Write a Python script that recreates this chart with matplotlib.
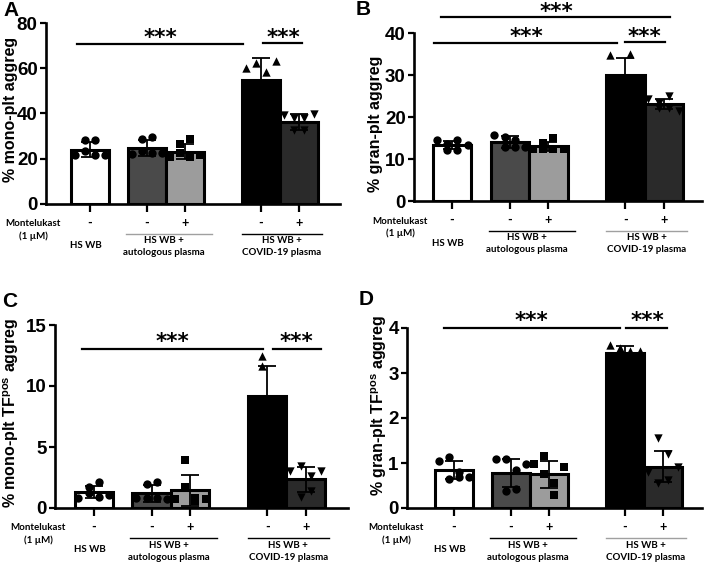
import numpy as np
import matplotlib
matplotlib.use("Agg")
import matplotlib.pyplot as plt

plt.rcParams['font.family'] = ['Liberation Sans', 'DejaVu Sans']
plt.rcParams['mathtext.fontset'] = 'custom'
plt.rcParams['mathtext.rm'] = 'Liberation Sans:bold'
plt.rcParams['mathtext.bf'] = 'Liberation Sans:bold'
plt.rcParams['mathtext.it'] = 'Liberation Sans:bold'

# ---------------- data ----------------
montelukast = ["-", "-", "+", "-", "+"]
group_names = ["HS WB", "HS WB +", "autologous plasma", "HS WB +", "COVID-19 plasma"]
bar_colors = ["#ffffff", "#4a4a4a", "#9c9c9c", "#000000", "#2a2a2a"]
markers = ["o", "o", "s", "^", "v"]

ylabel_A = "% mono-plt aggreg"
means_A = [24.0, 24.8, 23.2, 55.0, 36.3]
sd_A = [3.2, 3.4, 3.3, 9.6, 3.4]
pts_A = [
    [21.7, 28.3, 23.4, 28.3, 21.7, 21.7],
    [22.0, 28.6, 23.4, 29.8, 22.7, 22.7],
    [20.6, 26.5, 22.4, 28.6, 20.6, 21.7],
    [60.0, 62.2, 43.0, 43.0, 58.5, 63.4],
    [39.3, 38.2, 32.7, 38.2, 32.7, 39.8],
]

ylabel_B = "% gran-plt aggreg"
means_B = [13.3, 14.0, 13.0, 30.0, 23.0]
sd_B = [1.0, 1.4, 1.1, 4.0, 1.2]
pts_B = [
    [14.5, 13.6, 12.1, 14.5, 12.1, 13.3],
    [15.7, 15.3, 12.9, 14.5, 12.9, 12.9],
    [12.3, 13.7, 12.3, 14.9, 12.3, 12.5],
    [34.7, 27.5, 27.5, 35.0, 27.8, 27.5],
    [24.2, 23.3, 22.1, 25.0, 22.1, 21.5],
]

ylabel_C = r"% mono-plt TF$^{\mathbf{pos}}$ aggreg"
means_C = [1.3, 1.2, 1.45, 9.2, 2.35]
sd_C = [0.5, 0.7, 1.25, 2.4, 1.0]
pts_C = [
    [0.85, 1.7, 1.2, 2.16, 0.93, 1.07],
    [0.8, 2.0, 0.8, 2.1, 0.8, 0.7],
    [0.7, 3.9, 1.75, 0.6, 0.8, 0.75],
    [8.2, 12.5, 11.6, 6.3, 8.3, 8.3],
    [3.0, 3.44, 0.93, 2.6, 1.42, 3.0],
]

ylabel_D = r"% gran-plt TF$^{\mathbf{pos}}$ aggreg"
means_D = [0.84, 0.78, 0.75, 3.45, 0.92]
sd_D = [0.2, 0.31, 0.3, 0.16, 0.34]
pts_D = [
    [1.04, 0.64, 1.14, 0.81, 0.70, 0.70],
    [1.08, 1.1, 0.38, 0.84, 0.42, 0.98],
    [0.98, 1.16, 0.76, 0.30, 0.55, 0.92],
    [3.62, 3.5, 3.55, 3.2, 3.5, 3.48],
    [0.81, 1.55, 0.55, 1.2, 0.62, 0.92],
]

# ---------------- layout ----------------
W, H = 705, 562
xpos = [0, 1.5, 2.5, 4.5, 5.5]
col_off = [-0.4, -0.13, -0.13, 0.13, 0.13, 0.4]

panels = [
    dict(letter="A", letter_xy=(3, 1), rect=(46, 23, 340, 204), xlim=(-1.16, 6.58),
         ylim=(0, 80), yticks=[0, 20, 40, 60, 80], ylabel=ylabel_A, ylab=(-0.122, 0.52),
         means=means_A, sd=sd_A, pts=pts_A, monte_dx=-13,
         glc=["#a0a0a0", "#000000"],
         sig=[(-0.34, 4.03, 70.5), (4.55, 5.58, 71.2)],
         stars=[(1.84, 75.6), (5.08, 75.8)]),
    dict(letter="B", letter_xy=(356, 0), rect=(414, 33, 702, 201), xlim=(-0.99, 6.49),
         ylim=(0, 40), yticks=[0, 10, 20, 30, 40], ylabel=ylabel_B, ylab=(-0.135, 0.46),
         means=means_B, sd=sd_B, pts=pts_B, monte_dx=-14,
         glc=["#000000", "#a0a0a0"],
         sig=[(-0.3, 5.65, 43.7), (-0.47, 4.29, 37.7), (4.5, 5.54, 37.9)],
         stars=[(2.7, 46.2), (1.92, 40.2), (5.0, 40.2)]),
    dict(letter="C", letter_xy=(2, 292), rect=(55, 325, 348, 508), xlim=(-1.01, 6.6),
         ylim=(0, 15), yticks=[0, 5, 10, 15], ylabel=ylabel_C, ylab=(-0.15, 0.52),
         means=means_C, sd=sd_C, pts=pts_C, monte_dx=-17,
         glc=["#000000", "#000000"],
         sig=[(-0.32, 4.39, 13.0), (4.65, 5.9, 13.0)],
         stars=[(2.05, 14.04), (5.27, 14.04)]),
    dict(letter="D", letter_xy=(359, 290), rect=(407, 328, 702, 508), xlim=(-1.24, 6.53),
         ylim=(0, 4), yticks=[0, 1, 2, 3, 4], ylabel=ylabel_D, ylab=(-0.094, 0.57),
         means=means_D, sd=sd_D, pts=pts_D, monte_dx=-11,
         glc=["#000000", "#a0a0a0"],
         sig=[(-0.26, 4.37, 3.99), (4.53, 5.6, 3.99)],
         stars=[(2.05, 4.27), (5.1, 4.27)]),
]

fig = plt.figure(figsize=(W / 100, H / 100), dpi=100)
small_font = ['Lato', 'DejaVu Sans']
SF = 7.0

for p in panels:
    x0, y0, x1, y1 = p["rect"]
    hpx = y1 - y0
    ax = fig.add_axes([x0 / W, 1 - y1 / H, (x1 - x0) / W, hpx / H])
    ax.set_xlim(*p["xlim"])
    ax.set_ylim(*p["ylim"])
    for s in ["top", "right"]:
        ax.spines[s].set_visible(False)
    for s in ["left", "bottom"]:
        ax.spines[s].set_linewidth(1.9)
    ax.bar(xpos, p["means"], width=1.0, color=bar_colors, edgecolor="black",
           linewidth=2.2, zorder=2)
    ax.errorbar(xpos, p["means"], yerr=p["sd"], fmt="none", ecolor="black",
                elinewidth=1.3, capsize=6.5, capthick=1.3, zorder=3)
    for i, vals in enumerate(p["pts"]):
        xs = [xpos[i] + col_off[k] for k in range(len(vals))]
        ax.scatter(xs, vals, marker=markers[i], s=36, color="black", zorder=4,
                   linewidths=0)
    ax.set_yticks(p["yticks"])
    ax.set_yticklabels([str(t) for t in p["yticks"]], fontsize=13.5, fontweight="bold")
    ax.tick_params(axis="y", length=4, width=1.6, pad=2)
    ax.set_xticks(xpos)
    ax.set_xticklabels([])
    ax.tick_params(axis="x", length=6, width=1.6)
    ax.set_ylabel(p["ylabel"], fontsize=11.5, fontweight="bold", va="center", ha="center")
    ax.yaxis.set_label_coords(*p["ylab"])

    tr = ax.get_xaxis_transform()
    def fy(d):
        return -d / hpx
    for i, m in enumerate(montelukast):
        ax.text(xpos[i], fy(19), m, transform=tr, ha="center", va="center",
                fontsize=9, fontweight="bold", family=small_font)
    ax.annotate("Montelukast", xy=(0, fy(20)), xycoords="axes fraction",
                xytext=(p["monte_dx"] * 0.72, 0), textcoords="offset points",
                ha="center", va="center", fontsize=SF, fontweight="bold", family=small_font)
    ax.annotate("(1 µM)", xy=(0, fy(32)), xycoords="axes fraction",
                xytext=(p["monte_dx"] * 0.72, 0), textcoords="offset points",
                ha="center", va="center", fontsize=SF, fontweight="bold", family=small_font)
    ax.text(-0.1, fy(42), group_names[0], transform=tr, ha="center", va="center",
            fontsize=SF, fontweight="bold", family=small_font)
    ax.plot([0.95, 3.2], [fy(30), fy(30)], transform=tr, color=p["glc"][0], lw=1.0,
            clip_on=False)
    ax.plot([4.0, 6.1], [fy(30), fy(30)], transform=tr, color=p["glc"][1], lw=1.0,
            clip_on=False)
    ax.text(1.95, fy(37), group_names[1], transform=tr, ha="center", va="center",
            fontsize=SF, fontweight="bold", family=small_font)
    ax.text(1.95, fy(49), group_names[2], transform=tr, ha="center", va="center",
            fontsize=SF, fontweight="bold", family=small_font)
    ax.text(5.05, fy(37), group_names[3], transform=tr, ha="center", va="center",
            fontsize=SF, fontweight="bold", family=small_font)
    ax.text(5.05, fy(49), group_names[4], transform=tr, ha="center", va="center",
            fontsize=SF, fontweight="bold", family=small_font)

    for (a, b, yy) in p["sig"]:
        ax.plot([a, b], [yy, yy], color="black", lw=1.6, clip_on=False, zorder=5)
    for (sx, sy) in p["stars"]:
        ax.annotate("***", xy=(sx, sy), xycoords="data", xytext=(0, -8),
                    textcoords="offset points", ha="center", va="baseline",
                    fontsize=15.5, fontweight="bold", family=['DejaVu Sans'],
                    annotation_clip=False)

    lx, ly = p["letter_xy"]
    fig.text(lx / W, 1 - ly / H, p["letter"], ha="left", va="top",
             fontsize=15, fontweight="bold")

fig.savefig("out.png", dpi=100)
